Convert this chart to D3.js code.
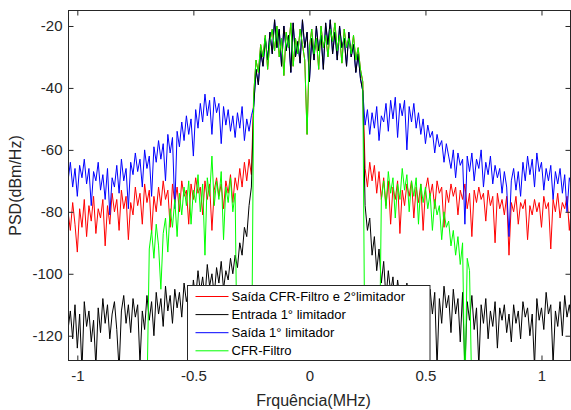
<!DOCTYPE html>
<html>
<head>
<meta charset="utf-8">
<script src="https://cdn.jsdelivr.net/npm/d3@7"></script>
<style>
  body { margin: 0; background: #fff; }
  svg { display: block; font-family: "Liberation Sans", Arial, sans-serif; }
</style>
</head>
<body>
<div id="chart"></div>
<script>
// frequency grid (MHz), one sample every 0.01
const fStep = 0.01;

// Entrada 1° limitador, -1.04 .. -0.25
const blackLeft = [-118, -112, -121, -110, -124, -113, -131, -109, -117, -112,
  -122, -115, -130, -111, -119, -108, -116, -110, -121, -113,
  -109, -118, -131, -112, -107, -116, -110, -119, -108, -114,
  -110, -129, -112, -118, -107, -115, -109, -120, -106, -113,
  -108, -117, -104, -112, -107, -116, -105, -111, -106, -114,
  -103, -109, -105, -113, -102, -108, -99, -106, -101, -108,
  -97, -104, -100, -107, -98, -103, -96, -105, -99, -102,
  -95, -100, -94, -98, -90, -94, -85, -88, -78, -72];
// in-band part, -0.24 .. 0.23
const blackBand = [-46, -34, -39, -28, -33, -24, -31, -22, -29, -18,
  -27, -21, -33, -20, -28, -23, -35, -19, -30, -25,
  -32, -18, -27, -22, -38, -24, -31, -20, -28, -23,
  -34, -19, -26, -18, -29, -22, -31, -20, -27, -24,
  -33, -22, -30, -26, -35, -29, -37, -41];
// 0.24 .. 1.13
const blackRight = [-78, -86, -82, -94, -88, -99, -92, -103, -96, -108,
  -99, -106, -101, -111, -102, -108, -104, -112, -103, -110,
  -105, -114, -104, -109, -106, -115, -107, -112, -105, -113,
  -106, -130, -108, -116, -104, -111, -107, -119, -105, -113,
  -108, -122, -106, -131, -109, -115, -107, -118, -111, -130,
  -110, -116, -108, -121, -112, -117, -109, -124, -111, -115,
  -110, -119, -113, -122, -110, -116, -112, -121, -109, -114,
  -111, -120, -113, -130, -108, -115, -111, -118, -106, -113,
  -110, -129, -112, -117, -109, -120, -107, -114, -110, -116];

// Saída CFR-Filtro e 2°limitador, -1.04 .. -0.25 and 0.24 .. 1.13
const redLeft = [-80, -86, -77, -84, -93, -79, -85, -76, -88, -78,
  -83, -75, -87, -79, -82, -76, -91, -78, -84, -74,
  -80, -76, -86, -73, -79, -75, -89, -77, -81, -72,
  -78, -74, -84, -71, -77, -73, -87, -75, -80, -72,
  -78, -70, -76, -73, -85, -71, -77, -72, -80, -70,
  -75, -73, -84, -71, -76, -69, -74, -72, -81, -70,
  -76, -71, -86, -73, -69, -75, -71, -79, -70, -74,
  -68, -77, -69, -73, -66, -72, -64, -70, -63, -68];
const redRight = [-66, -72, -64, -70, -65, -74, -67, -76, -69, -78,
  -70, -84, -72, -76, -70, -87, -73, -78, -71, -75,
  -70, -82, -72, -77, -71, -86, -73, -69, -75, -71,
  -79, -70, -74, -72, -85, -73, -77, -71, -75, -72,
  -81, -73, -76, -71, -79, -74, -88, -73, -77, -72,
  -76, -74, -83, -73, -78, -75, -90, -74, -79, -76,
  -81, -75, -94, -77, -80, -75, -84, -77, -79, -76,
  -89, -78, -81, -76, -80, -77, -85, -75, -79, -77,
  -92, -76, -80, -74, -82, -77, -79, -75, -86, -78];

// Saída 1° limitador, -1.04 .. -0.25 and 0.24 .. 1.13
const blueLeft = [-70, -64, -72, -66, -75, -65, -69, -63, -71, -66,
  -78, -67, -70, -64, -73, -68, -76, -66, -81, -69,
  -72, -65, -74, -63, -70, -66, -79, -64, -68, -61,
  -67, -63, -72, -60, -66, -62, -75, -59, -64, -57,
  -63, -58, -70, -55, -61, -56, -79, -54, -59, -51,
  -57, -49, -55, -50, -62, -47, -53, -45, -51, -42,
  -49, -44, -55, -43, -48, -45, -58, -46, -52, -47,
  -54, -49, -56, -48, -53, -46, -57, -50, -54, -49];
const blueRight = [-52, -47, -55, -48, -53, -46, -57, -49, -51, -45,
  -54, -44, -50, -43, -56, -45, -49, -44, -60, -46,
  -51, -45, -53, -48, -55, -50, -58, -52, -56, -54,
  -61, -55, -59, -57, -64, -58, -62, -66, -60, -69,
  -61, -65, -63, -84, -62, -67, -61, -70, -63, -66,
  -60, -72, -64, -68, -62, -71, -65, -69, -66, -74,
  -67, -72, -88, -70, -66, -73, -67, -75, -64, -70,
  -62, -68, -63, -72, -61, -67, -64, -73, -66, -70,
  -65, -76, -67, -71, -66, -74, -68, -80, -69, -72];

// CFR-Filtro, -0.70 .. -0.25, in-band -0.24 .. 0.23, 0.24 .. 0.70
const greenLeft = [-140, -92, -86, -95, -84, -91, -105, -87, -82, -93,
  -79, -85, -76, -88, -74, -81, -72, -78, -70, -84,
  -73, -77, -68, -80, -71, -94, -69, -75, -62, -78,
  -70, -76, -67, -89, -72, -77, -69, -80, -74, -140,
  -140, -140, -140, -140, -140, -140];
const greenBand = [-42, -31, -35, -26, -30, -23, -34, -25, -21, -28,
  -20, -30, -24, -36, -22, -27, -19, -33, -24, -29,
  -21, -26, -31, -55, -27, -21, -29, -24, -34, -20,
  -27, -23, -30, -21, -25, -19, -28, -23, -32, -21,
  -27, -24, -29, -23, -31, -27, -34, -38];
const greenRight = [-140, -140, -140, -140, -140, -140, -140, -76, -70, -79,
  -67, -74, -69, -82, -71, -76, -66, -73, -68, -80,
  -70, -75, -69, -84, -71, -77, -72, -79, -74, -86,
  -76, -81, -78, -89, -80, -85, -83, -91, -86, -94,
  -88, -97, -90, -140, -95, -99, -140];

const xTicks = [-1, -0.5, 0, 0.5, 1];
const yTicks = [-120, -100, -80, -60, -40, -20];

const series = [
  { name: "Saída CFR-Filtro e 2°limitador", color: "#ff0000", start: -1.04, values: [...redLeft, ...greenBand, ...redRight] },
  { name: "Saída 1° limitador", color: "#0000ff", start: -1.04, values: [...blueLeft, ...blackBand, ...blueRight] },
  { name: "Entrada 1° limitador", color: "#000000", start: -1.04, values: [...blackLeft, ...blackBand, ...blackRight] },
  { name: "CFR-Filtro", color: "#00ff00", start: -0.70, values: [...greenLeft, ...greenBand, ...greenRight] },
];
const legendOrder = ["Saída CFR-Filtro e 2°limitador", "Entrada 1° limitador", "Saída 1° limitador", "CFR-Filtro"];

const width = 571, height = 410;
const plot = { left: 68.5, right: 570.5, top: 10.5, bottom: 360.5 };
const axisColor = "#262626";

const x = d3.scaleLinear().domain([-1.038, 1.125]).range([plot.left, plot.right]);
const y = d3.scaleLinear().domain([-128, -15]).range([plot.bottom, plot.top]);

const svg = d3.select("#chart").append("svg").attr("width", width).attr("height", height);

svg.append("clipPath").attr("id", "clip")
  .append("rect")
  .attr("x", plot.left).attr("y", plot.top)
  .attr("width", plot.right - plot.left).attr("height", plot.bottom - plot.top);

const line = d3.line().x((d) => x(d[0])).y((d) => y(d[1]));

svg.append("g").attr("clip-path", "url(#clip)")
  .selectAll("path")
  .data(series)
  .join("path")
  .attr("fill", "none")
  .attr("stroke", (d) => d.color)
  .attr("stroke-width", 1)
  .attr("stroke-linejoin", "round")
  .attr("d", (d) => line(d.values.map((v, i) => [d.start + i * fStep, v])));

// axes with inward ticks on all four sides, plain hyphen for negatives
const tickLen = 5;
const plain = (d) => String(d);
const xBottom = d3.axisBottom(x).tickValues(xTicks).tickSizeInner(-tickLen).tickSizeOuter(0).tickPadding(10).tickFormat(plain);
const xTop = d3.axisTop(x).tickValues(xTicks).tickSizeInner(-tickLen).tickSizeOuter(0).tickFormat("");
const yLeft = d3.axisLeft(y).tickValues(yTicks).tickSizeInner(-tickLen).tickSizeOuter(0).tickPadding(6).tickFormat(plain);
const yRight = d3.axisRight(y).tickValues(yTicks).tickSizeInner(-tickLen).tickSizeOuter(0).tickFormat("");

function styleAxis(g) {
  g.select(".domain").remove();
  g.selectAll("line").attr("stroke", axisColor);
  g.selectAll("text").attr("fill", axisColor).attr("font-size", 15).attr("font-family", "Liberation Sans, Arial, sans-serif");
}

svg.append("g").attr("transform", `translate(0,${plot.bottom})`).call(xBottom).call(styleAxis);
svg.append("g").attr("transform", `translate(0,${plot.top})`).call(xTop).call(styleAxis);
svg.append("g").attr("transform", `translate(${plot.left},0)`).call(yLeft).call(styleAxis);
svg.append("g").attr("transform", `translate(${plot.right},0)`).call(yRight).call(styleAxis);

svg.append("rect")
  .attr("x", plot.left).attr("y", plot.top)
  .attr("width", plot.right - plot.left).attr("height", plot.bottom - plot.top)
  .attr("fill", "none").attr("stroke", axisColor).attr("stroke-width", 1);

svg.append("text")
  .attr("x", (plot.left + plot.right) / 2 - 6).attr("y", 406)
  .attr("text-anchor", "middle").attr("font-size", 16).attr("fill", axisColor)
  .text("Frquência(MHz)");

svg.append("text")
  .attr("transform", `translate(21,${(plot.top + plot.bottom) / 2}) rotate(-90)`)
  .attr("text-anchor", "middle").attr("font-size", 16).attr("fill", axisColor)
  .text("PSD(dBm/Hz)");

// legend
const legend = svg.append("g").attr("transform", "translate(187.5,285.5)");
legend.append("rect").attr("width", 242.5).attr("height", 75)
  .attr("fill", "#fff").attr("stroke", axisColor).attr("stroke-width", 1);

const rows = legend.selectAll("g.row")
  .data(legendOrder.map((n) => series.find((s) => s.name === n)))
  .join("g").attr("class", "row")
  .attr("transform", (d, i) => `translate(0,${11 + i * 18.1})`);
rows.append("line").attr("x1", 8).attr("x2", 41).attr("stroke", (d) => d.color).attr("stroke-width", 1);
rows.append("text").attr("x", 44).attr("dy", "0.35em")
  .attr("font-size", 13).attr("fill", "#000")
  .text((d) => d.name);
</script>
</body>
</html>
